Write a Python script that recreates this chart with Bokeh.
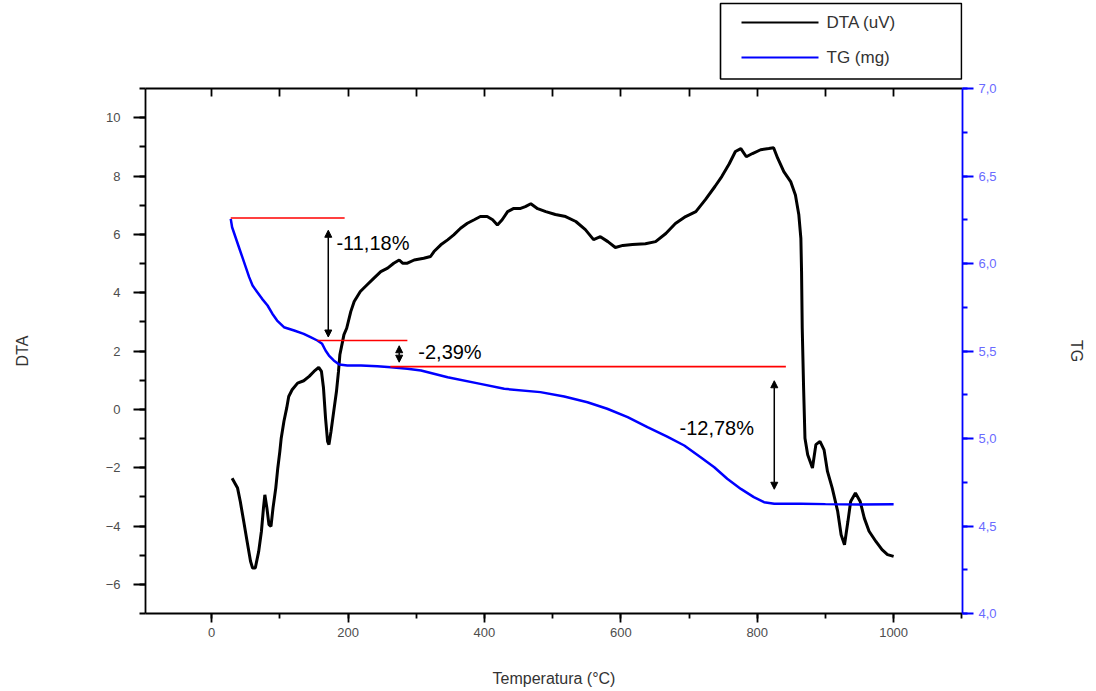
from bokeh.plotting import figure
from bokeh.layouts import column
from bokeh.models import (LinearAxis, Range1d, FixedTicker, CustomJSTickFormatter,
                          Arrow, NormalHead)
from bokeh.core.properties import value
from bokeh.embed import file_html
from bokeh.resources import INLINE

# DTA signal (uV) against temperature (°C)
dta_temp = [30, 38, 42, 47, 52, 57, 60, 64, 69, 73, 76, 78, 81, 84, 87, 90, 94, 97, 100, 102,
            106, 110, 113, 118, 126, 135, 143, 150, 157, 161, 164, 167, 170, 172, 175, 179, 183,
            186, 188, 192, 194, 198, 204, 209, 218, 228, 238, 248, 258, 267, 275, 280, 287, 297,
            311, 321, 326, 336, 346, 355, 365, 375, 385, 394, 404, 412, 419, 426, 434, 443, 453,
            460, 468, 478, 490, 504, 519, 534, 548, 560, 570, 581, 592, 603, 617, 636, 651, 666,
            680, 695, 710, 724, 738, 748, 759, 768, 776, 784, 793, 805, 817, 824, 830, 839, 849,
            856, 861, 864, 865, 866, 868, 870, 874, 881, 886, 892, 898, 903, 910, 918, 923, 928,
            933, 937, 944, 951, 957, 964, 974, 983, 991, 1000]
dta_values = [-2.36, -2.70, -3.16, -3.84, -4.53, -5.21, -5.44, -5.44, -4.87, -4.18, -3.38, -2.93,
              -3.38, -3.95, -4.01, -3.38, -2.70, -2.01, -1.44, -0.99, -0.41, 0.04, 0.44, 0.67,
              0.90, 0.98, 1.13, 1.30, 1.44, 1.30, 0.73, -0.30, -1.10, -1.21, -0.76, -0.07, 0.61,
              1.30, 1.87, 2.33, 2.56, 2.78, 3.35, 3.70, 4.04, 4.27, 4.50, 4.72, 4.84, 5.01, 5.12,
              5.01, 5.01, 5.12, 5.18, 5.24, 5.41, 5.64, 5.81, 5.98, 6.21, 6.38, 6.50, 6.61, 6.61,
              6.50, 6.32, 6.50, 6.78, 6.89, 6.89, 6.95, 7.05, 6.88, 6.78, 6.68, 6.61, 6.44, 6.16,
              5.82, 5.92, 5.75, 5.55, 5.62, 5.65, 5.68, 5.75, 6.03, 6.37, 6.61, 6.78, 7.19, 7.64,
              7.98, 8.42, 8.84, 8.94, 8.66, 8.77, 8.90, 8.94, 8.97, 8.61, 8.15, 7.81, 7.35, 6.67,
              5.86, 4.72, 2.78, 0.73, -0.99, -1.56, -2.01, -1.21, -1.10, -1.39, -2.13, -2.70,
              -3.50, -4.30, -4.64, -3.84, -3.16, -2.87, -3.16, -3.73, -4.18, -4.53, -4.81, -4.98,
              -5.04]

# TG mass (mg) against temperature (°C)
tg_temp = [28, 30, 35, 40, 45, 50, 55, 60, 67, 74, 82, 89, 96, 106, 121, 135, 145, 155, 162, 167,
           172, 179, 187, 199, 219, 243, 263, 287, 307, 346, 394, 429, 482, 517, 551, 580, 610,
           639, 668, 693, 717, 737, 756, 776, 795, 810, 825, 864, 900, 950, 1000]
tg_values = [6.255, 6.207, 6.150, 6.093, 6.036, 5.979, 5.922, 5.874, 5.836, 5.798, 5.760, 5.713,
             5.674, 5.636, 5.617, 5.598, 5.579, 5.560, 5.541, 5.503, 5.474, 5.446, 5.423, 5.417,
             5.417, 5.413, 5.407, 5.398, 5.389, 5.350, 5.312, 5.284, 5.265, 5.240, 5.207, 5.170,
             5.122, 5.065, 5.011, 4.960, 4.893, 4.836, 4.770, 4.712, 4.665, 4.636, 4.627, 4.627,
             4.625, 4.623, 4.624]

# mass-loss steps
initial_mass = 6.26
loss_percent = [11.18, 2.39, 12.78]

# legend entries
series_names = ["DTA (uV)", "TG (mg)"]

levels = [initial_mass]
for pct in loss_percent:
    levels.append(levels[-1] - initial_mass * pct / 100.0)

FONT = "Liberation Sans"
BLUE = "#0000ff"
SERIES_COLORS = ["black", BLUE]

# ---- legend strip across the top of the page
# its frame lines up with the chart frame below (page pixels 145..962, y downwards)
key = figure(width=1096, height=80, x_range=Range1d(145, 962), y_range=Range1d(80, 0),
             output_backend="svg", toolbar_location=None,
             x_axis_location=None, y_axis_location=None, min_border=0)
key.outline_line_color = None
key.grid.visible = False
key.background_fill_color = "white"
key.border_fill_color = "white"
key.quad(left=[720], right=[961], top=[3], bottom=[78.5], fill_color="white",
         line_color="black", line_width=1.6)
row_y = [22, 57]
for name, color, yy in zip(series_names, SERIES_COLORS, row_y):
    key.line([741, 818], [yy, yy], line_color=color, line_width=1.8)
key.text(x=[826, 826], y=row_y, text=series_names, text_font=value(FONT),
         text_font_size="17px", text_color="#333333", text_align="left",
         text_baseline="middle")

# ---- main chart
p = figure(width=1096, height=611, x_range=Range1d(-97, 1101), y_range=Range1d(-7, 11),
           output_backend="svg", toolbar_location=None,
           x_axis_location=None, y_axis_location=None,
           min_border_left=145, min_border_right=134, min_border_top=8, min_border_bottom=78)
p.outline_line_color = None
p.background_fill_color = "white"
p.border_fill_color = "white"
p.grid.visible = False
p.extra_y_ranges = {"tg": Range1d(4, 7)}


def style_axis(ax, line_color, label_color, tick_out, minor_out):
    ax.axis_line_color = line_color
    ax.axis_line_width = 1.8
    ax.major_tick_line_color = line_color
    ax.minor_tick_line_color = line_color
    ax.major_tick_line_width = 1.8
    ax.minor_tick_line_width = 1.8
    ax.major_tick_in = 0
    ax.major_tick_out = tick_out
    ax.minor_tick_in = 0
    ax.minor_tick_out = minor_out
    ax.major_label_text_font = FONT
    ax.major_label_text_font_size = "13px"
    ax.major_label_text_color = label_color
    ax.axis_label_text_font = FONT
    ax.axis_label_text_font_size = "16px"
    ax.axis_label_text_font_style = "normal"
    ax.axis_label_text_color = "#333333"


left = LinearAxis(axis_label="DTA",
                  ticker=FixedTicker(ticks=list(range(-6, 11, 2)), minor_ticks=list(range(-7, 12))))
style_axis(left, "black", "#4d4d4d", 12, 6)
left.major_label_standoff = 13
left.axis_label_standoff = 72
p.add_layout(left, "left")

bottom = LinearAxis(axis_label="Temperatura (°C)",
                    ticker=FixedTicker(ticks=list(range(0, 1001, 200)),
                                       minor_ticks=list(range(-100, 1101, 100))))
style_axis(bottom, "black", "#4d4d4d", 9, 5)
bottom.major_label_standoff = 5
bottom.axis_label_standoff = 30
p.add_layout(bottom, "below")

top = LinearAxis(ticker=FixedTicker(ticks=list(range(0, 1001, 100)), minor_ticks=[]),
                 formatter=CustomJSTickFormatter(code="return ''"))
style_axis(top, "black", "#4d4d4d", 0, 0)
top.major_tick_in = 8
top.major_label_standoff = 0
top.major_label_text_font_size = "1px"
p.add_layout(top, "above")

right = LinearAxis(y_range_name="tg", axis_label="TG",
                   ticker=FixedTicker(ticks=[4.0, 4.5, 5.0, 5.5, 6.0, 6.5, 7.0],
                                      minor_ticks=[4 + 0.25 * i for i in range(13)]),
                   formatter=CustomJSTickFormatter(code="return tick.toFixed(1).replace('.', ',')"))
style_axis(right, BLUE, "#6a6aff", 11, 5)
right.major_label_standoff = 5
right.axis_label_standoff = 68
p.add_layout(right, "right")

# curves
p.line(dta_temp, dta_values, line_color=SERIES_COLORS[0], line_width=3)
p.line(tg_temp, tg_values, line_color=SERIES_COLORS[1], line_width=2.5, y_range_name="tg")

# horizontal level marks for each mass plateau
level_spans = [(28, 195), (155, 287), (262, 842)]
for (x0, x1), lev in zip(level_spans, levels[:3]):
    p.line([x0, x1], [lev, lev], line_color="#ff0000", line_width=1.6, y_range_name="tg")

# double-headed arrows spanning each step
arrow_x = [171, 275, 825]
arrow_top = [6.19, 5.53, 5.33]
arrow_bottom = [5.58, 5.436, 4.71]
for ax_, y0, y1 in zip(arrow_x, arrow_top, arrow_bottom):
    p.add_layout(Arrow(x_start=ax_, y_start=y0, x_end=ax_, y_end=y1, y_range_name="tg",
                       line_color="black", line_width=1.5,
                       start=NormalHead(size=7, fill_color="black", line_color="black"),
                       end=NormalHead(size=7, fill_color="black", line_color="black")))

# step annotations
label_x = [183, 303, 686]
label_y = [6.12, 5.493, 5.061]
label_text = ["-" + f"{pct:.2f}".replace(".", ",") + "%" for pct in loss_percent]
p.text(x=label_x, y=label_y, text=label_text, y_range_name="tg",
       text_font=value(FONT), text_font_size="20px", text_color="black",
       text_align="left", text_baseline="middle")

page = column(key, p, spacing=0)
open("out.html", "w").write(file_html(page, INLINE))
